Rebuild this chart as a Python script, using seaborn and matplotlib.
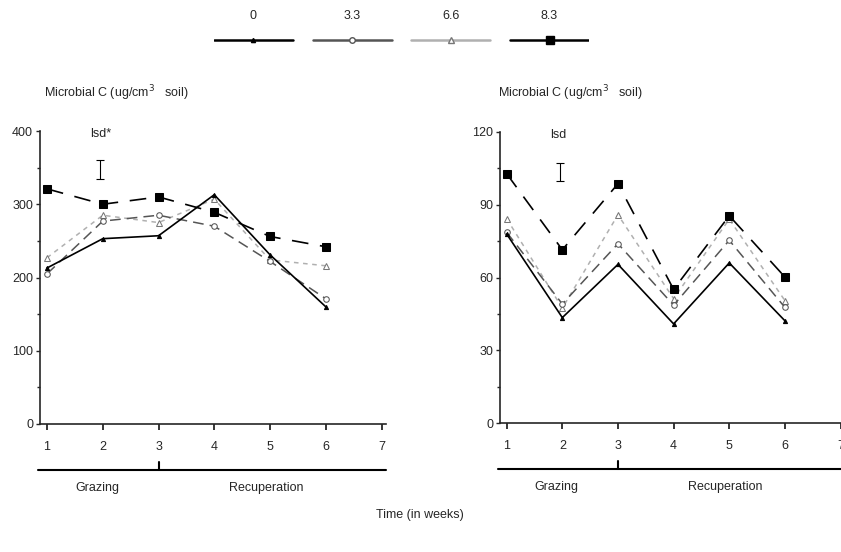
import matplotlib.pyplot as plt
import seaborn as sns
import pandas as pd
from matplotlib.ticker import MultipleLocator

weeks = [1, 2, 3, 4, 5, 6]
levels = ["0", "3.3", "6.6", "8.3"]

# left panel
left_vals = {
    "0":   [213, 253, 257, 313, 231, 160],
    "3.3": [205, 277, 285, 270, 222, 171],
    "6.6": [227, 285, 275, 307, 224, 216],
    "8.3": [321, 300, 310, 289, 256, 242],
}
# right panel
right_vals = {
    "0":   [77.9, 43.5, 65.4, 40.9, 66.0, 42.2],
    "3.3": [78.6, 49.1, 73.9, 48.6, 75.3, 47.7],
    "6.6": [84.2, 47.4, 85.8, 51.3, 84.0, 50.5],
    "8.3": [102.7, 71.4, 98.6, 55.1, 85.4, 60.2],
}
lsd_left = (347.5, 12.5)
lsd_right = (103.5, 3.8)

sns.set_style("ticks")
plt.rcParams["font.family"] = ["Liberation Sans", "DejaVu Sans"]
plt.rcParams["font.size"] = 9
fs = 9

look = {
    "0":   dict(color="black", marker="^", ms=3, mfc="black", mec="black", ls="-", lw=1.2),
    "3.3": dict(color="#555555", marker="o", ms=4, mfc="white", mec="#555555", ls=(0, (7, 4)), lw=1.1),
    "6.6": dict(color="#b0b0b0", marker="^", ms=4, mfc="white", mec="#777777", ls=(0, (3, 3)), lw=1.1),
    "8.3": dict(color="black", marker="s", ms=6, mfc="black", mec="black", ls=(0, (10, 7)), lw=1.2),
}
order = ["6.6", "3.3", "0", "8.3"]

fig = plt.figure(figsize=(8.41, 5.52), dpi=100)
ax1 = fig.add_axes([40 / 841, 1 - 424 / 552, 346 / 841, 293 / 552])
ax2 = fig.add_axes([500 / 841, 1 - 423.3 / 552, 345 / 841, 291.6 / 552])


def panel(ax, vals, ymax, major, lsd, lsd_txt, xleft):
    for lev in order:
        df = pd.DataFrame({"week": weeks, "C": vals[lev]})
        sns.lineplot(data=df, x="week", y="C", ax=ax, legend=False, **look[lev])
    ax.errorbar([1.95], [lsd[0]], yerr=[lsd[1]], color="black", lw=0.8, capsize=3, capthick=0.8)
    ax.text(1.78, ymax * 0.99, lsd_txt, ha="left", va="center", fontsize=fs)
    ax.set_xlim(xleft, 7.08)
    ax.set_ylim(0, ymax)
    ax.set_xticks(range(1, 8))
    ax.yaxis.set_major_locator(MultipleLocator(major))
    ax.yaxis.set_minor_locator(MultipleLocator(major / 2))
    ax.tick_params(axis="x", length=4, width=1.3, pad=8, labelsize=fs)
    ax.tick_params(axis="y", which="major", length=3, width=1, pad=2, labelsize=fs)
    ax.tick_params(axis="y", which="minor", length=2, width=1)
    for s in ["left", "bottom"]:
        ax.spines[s].set_linewidth(1.2)
    sns.despine(ax=ax)
    ax.set_xlabel("")
    ax.set_ylabel("")
    tr = ax.get_xaxis_transform()
    ax.plot([xleft - 0.03, 7.08], [-0.157, -0.157], color="black", lw=1.5, transform=tr, clip_on=False)
    ax.plot([3, 3], [-0.157, -0.13], color="black", lw=1.5, transform=tr, clip_on=False)
    ax.text(1.9, -0.218, "Grazing", ha="center", va="center", transform=tr, fontsize=fs)
    ax.text(4.93, -0.218, "Recuperation", ha="center", va="center", transform=tr, fontsize=fs)


panel(ax1, left_vals, 400, 100, lsd_left, "lsd*", 0.874)
panel(ax2, right_vals, 120, 30, lsd_right, "lsd", 0.88)

# y labels
for x0 in [44, 498]:
    fig.text(x0 / 841, 1 - 93 / 552, "Microbial C (ug/cm$^{3}$   soil)", ha="left", va="center", fontsize=fs)

fig.text(420 / 841, 1 - 515 / 552, "Time (in weeks)", ha="center", va="center", fontsize=fs)

# legend along the top
axl = fig.add_axes([214 / 841, 1 - 60 / 552, 375 / 841, 50 / 552])
axl.set_xlim(-0.4, 3.4)
axl.set_ylim(-1, 1)
axl.axis("off")
leg_colors = {"0": "black", "3.3": "#555555", "6.6": "#b0b0b0", "8.3": "black"}
for i, lev in enumerate(levels):
    kw = dict(look[lev])
    kw["ls"] = "-"
    kw["lw"] = 1.8
    kw["color"] = leg_colors[lev]
    axl.plot([i - 0.4, i, i + 0.4], [-0.2, -0.2, -0.2], markevery=[1], **kw)
    axl.text(i, 0.75, lev, ha="center", va="center", fontsize=fs)

plt.savefig("out.png", dpi=100)
